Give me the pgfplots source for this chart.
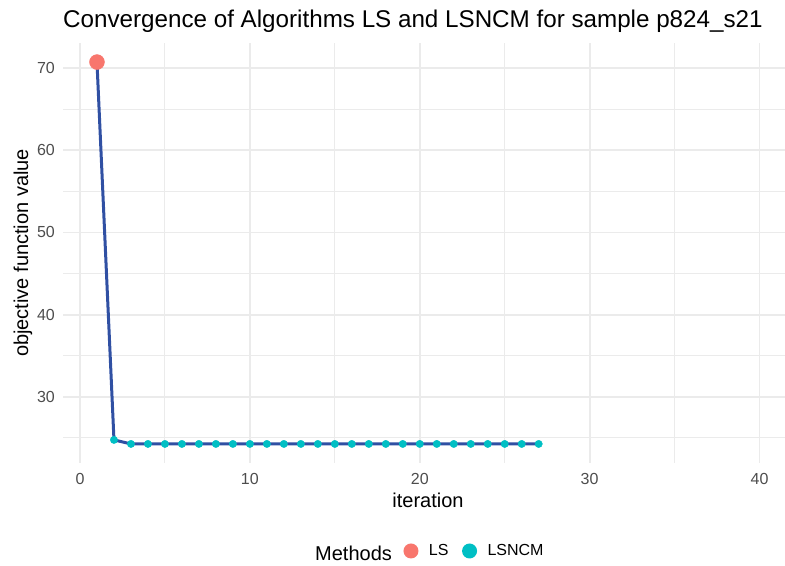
\documentclass[border=0pt]{standalone}
\usepackage{pgfplots}
\pgfplotsset{compat=1.18}
\usepackage{fontspec}
\setmainfont{Liberation Sans}
\definecolor{lsred}{HTML}{F8766D}
\definecolor{lsteal}{HTML}{00BFC4}
\definecolor{linebl}{HTML}{3050A3}
\definecolor{gridc}{HTML}{EBEBEB}
\definecolor{tickc}{HTML}{4D4D4D}
\begin{document}
\begin{tikzpicture}
\path[use as bounding box] (0,0) rectangle (785bp,566bp);
\begin{axis}[
  at={(63bp,103bp)}, anchor=south west,
  width=722bp, height=420bp, scale only axis,
  xmin=-1, xmax=41.5, ymin=21.95, ymax=73.05,
  axis line style={draw=none},
  major tick length=0pt, minor tick length=0pt,
  xtick={0,10,20,30,40}, minor xtick={5,15,25,35},
  ytick={30,40,50,60,70}, minor ytick={25,35,45,55,65},
  grid=both,
  major grid style={draw=gridc, line width=1.8bp},
  minor grid style={draw=gridc, line width=0.9bp},
  /pgf/number format/assume math mode=true,
  tick label style={font=\fontsize{16bp}{19bp}\selectfont, text=tickc},
  xticklabel style={inner sep=0pt, anchor=north, yshift=-10bp},
  yticklabel style={inner sep=0pt, anchor=east, xshift=-8bp},
  legend columns=-1,
  legend style={at={(0.4709,-0.2095)}, anchor=west, draw=none, fill=none,
    inner sep=0pt, outer sep=0pt,
    font=\fontsize{16bp}{19bp}\selectfont,
    nodes={inner sep=0pt},
    /tikz/every even column/.append style={column sep=13bp}},
  legend image code/.code={\path[draw=none,fill=none] (0bp,0bp) -- (26bp,0bp); \fill[draw=none] (8bp,0bp) circle (7.5bp);},
]
\addplot[linebl, line width=3bp, forget plot] coordinates {
(1,70.73) (2,24.76) (3,24.27) (4,24.27) (5,24.27) (6,24.27) (7,24.27) (8,24.27) (9,24.27) (10,24.27)
(11,24.27) (12,24.27) (13,24.27) (14,24.27) (15,24.27) (16,24.27) (17,24.27) (18,24.27) (19,24.27)
(20,24.27) (21,24.27) (22,24.27) (23,24.27) (24,24.27) (25,24.27) (26,24.27) (27,24.27)};
\addplot[only marks, color=lsred, mark=*, mark size=7.5bp] coordinates {(1,70.73)};
\addlegendentry{LS}
\addplot[only marks, color=lsteal, mark=*, mark size=3.7bp] coordinates {
(2,24.76) (3,24.27) (4,24.27) (5,24.27) (6,24.27) (7,24.27) (8,24.27) (9,24.27) (10,24.27)
(11,24.27) (12,24.27) (13,24.27) (14,24.27) (15,24.27) (16,24.27) (17,24.27) (18,24.27) (19,24.27)
(20,24.27) (21,24.27) (22,24.27) (23,24.27) (24,24.27) (25,24.27) (26,24.27) (27,24.27)};
\addlegendentry{LSNCM}
\end{axis}
\node[anchor=base west, inner sep=0pt, font=\fontsize{24.2bp}{28bp}\selectfont] at (63bp,538bp) {Convergence of Algorithms LS and LSNCM for sample p824\_s21};
\node[anchor=base, inner sep=0pt, font=\fontsize{20bp}{24bp}\selectfont] at (428bp,58bp) {iteration};
\node[anchor=base, rotate=90, inner sep=0pt, font=\fontsize{20bp}{24bp}\selectfont] at (28bp,313bp) {objective function value};
\node[anchor=base west, inner sep=0pt, font=\fontsize{20bp}{24bp}\selectfont] at (315bp,6bp) {Methods};
\end{tikzpicture}
\end{document}
